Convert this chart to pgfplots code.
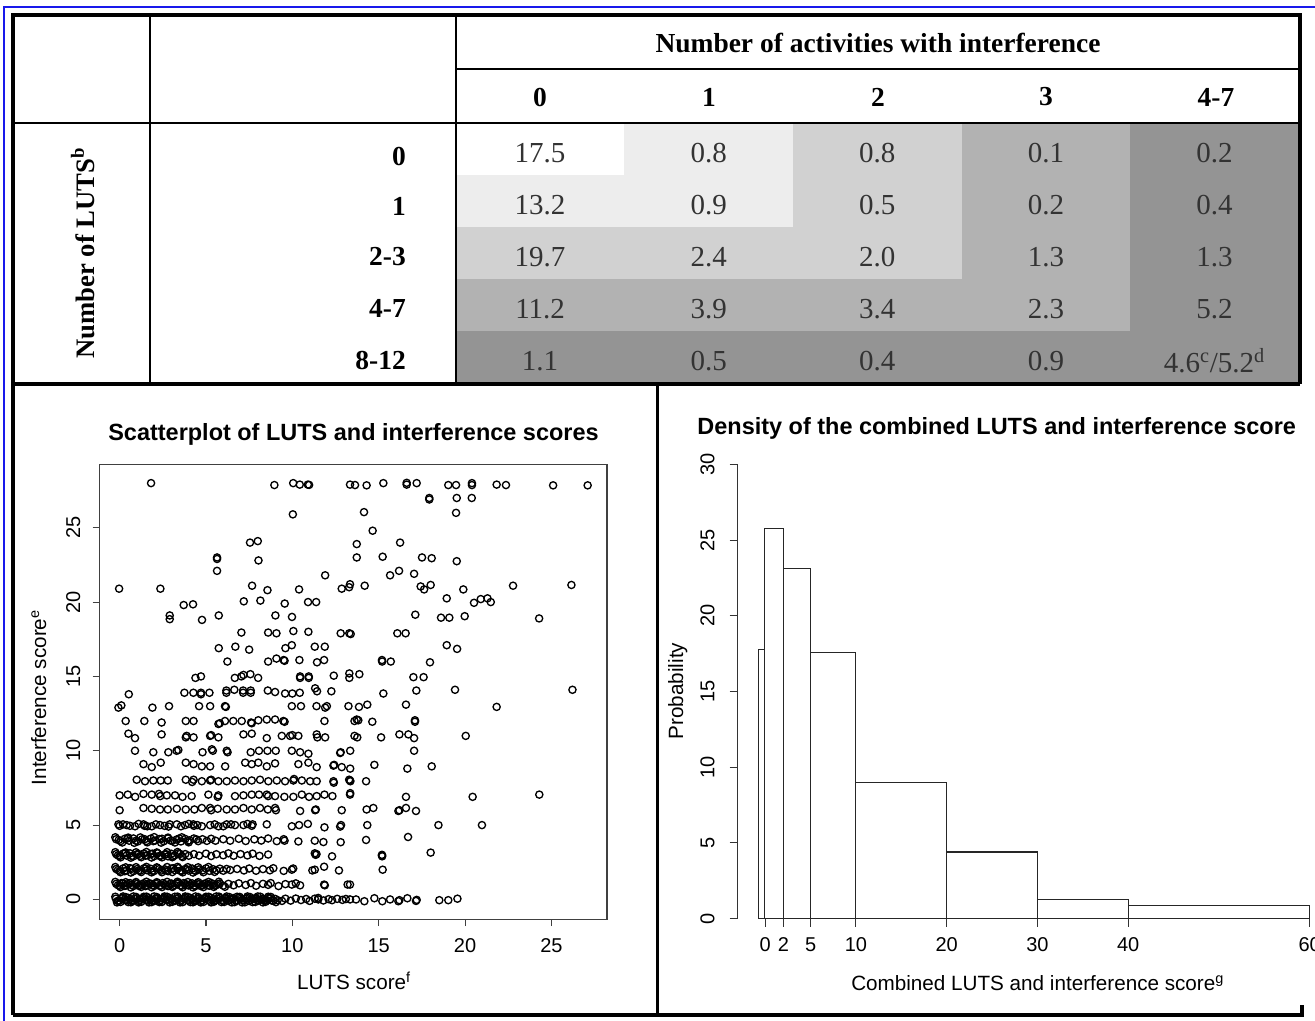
\documentclass[border=0pt]{standalone}
\usepackage{pgfplots}
\pgfplotsset{compat=1.18}
\usepackage{fontspec}
\setmainfont{Liberation Serif}
\newfontfamily\arial{Liberation Sans}
\definecolor{lv1}{gray}{0.93}
\definecolor{lv2}{gray}{0.82}
\definecolor{lv3}{gray}{0.70}
\definecolor{lv4}{gray}{0.58}
\definecolor{rblue}{RGB}{25,25,235}

\begin{document}
\begin{tikzpicture}
% page = 1315 x 1021 px, 1 px = 0.75pt
\useasboundingbox (0pt,0pt) rectangle (986.25pt,-765.75pt);
\fill[white] (0pt,0pt) rectangle (986.25pt,-765.75pt);

% ---- table cells (shading + values); origin at pixel (455.8,383)
\begin{axis}[at={(341.85pt,-287.25pt)}, anchor=south west, scale only axis,
  width=632.25pt, height=194.8pt,
  xmin=-0.5, xmax=4.5, ymin=-0.5, ymax=4.5, y dir=reverse,
  hide axis, clip=false]
\addplot[fill=lv4, draw=none] coordinates {(-0.5,-0.5) (4.5,-0.5) (4.5,4.5) (-0.5,4.5)} -- cycle;
\addplot[fill=lv3, draw=none] coordinates {(-0.5,-0.5) (3.5,-0.5) (3.5,3.5) (-0.5,3.5)} -- cycle;
\addplot[fill=lv2, draw=none] coordinates {(-0.5,-0.5) (2.5,-0.5) (2.5,2.5) (-0.5,2.5)} -- cycle;
\addplot[fill=lv1, draw=none] coordinates {(-0.5,-0.5) (1.5,-0.5) (1.5,1.5) (-0.5,1.5)} -- cycle;
\addplot[fill=white, draw=none] coordinates {(-0.5,-0.5) (0.5,-0.5) (0.5,0.5) (-0.5,0.5)} -- cycle;
\addplot[only marks, mark=none, point meta=explicit symbolic, nodes near coords,
  every node near coord/.append style={anchor=center, yshift=-3pt, text=black!80,
    font=\fontsize{21.75}{24}\selectfont}]
  table[meta=label] {
x y label
0 0 17.5
1 0 0.8
2 0 0.8
3 0 0.1
4 0 0.2
0 1 13.2
1 1 0.9
2 1 0.5
3 1 0.2
4 1 0.4
0 2 19.7
1 2 2.4
2 2 2.0
3 2 1.3
4 2 1.3
0 3 11.2
1 3 3.9
2 3 3.4
3 3 2.3
4 3 5.2
0 4 1.1
1 4 0.5
2 4 0.4
3 4 0.9
4 4 {4.6\textsuperscript{c}/5.2\textsuperscript{d}}
};
\end{axis}

% ---- scatterplot; box corner at pixel (99.6,919.2)
\begin{axis}[at={(74.7pt,-689.4pt)}, anchor=south west, scale only axis,
  width=380.55pt, height=341.0pt,
  xmin=-1.16, xmax=28.22, ymin=-1.33, ymax=29.25,
  axis line style={black!75, line width=0.9pt},
  tick align=outside, tick pos=left, major tick length=5.25pt,
  tick style={black!75, line width=0.8pt},
  xtick={0,5,...,25}, ytick={0,5,...,25},
  /pgf/number format/assume math mode=true,
  ticklabel style={font=\arial\fontsize{15}{18}\selectfont, inner sep=0pt},
  yticklabel style={rotate=90, anchor=south},
  xticklabel shift=9pt, yticklabel shift=9pt]
\addplot[only marks, mark=o, mark size=2.7pt, mark options={black, line width=1.0pt}] coordinates {
(1.82,28.0) (8.96,27.87) (10.05,28.0) (10.43,27.9) (10.9,27.9) (10.97,27.88) (13.34,27.9) (13.63,27.87) (14.3,27.85) (15.27,28.0) (16.62,28.02) (16.62,27.9) (17.2,28.0) (19.03,27.87) (19.48,27.87) (20.4,28.0) (20.4,27.87) (21.83,27.9) (22.37,27.87) (25.1,27.85) (27.1,27.85)
(17.93,27.0) (17.93,26.9) (19.52,27.0) (20.39,27.0)
(10.03,25.9) (14.15,26.05) (19.48,26.0) (14.65,24.8)
(7.55,24.0) (8.0,24.1) (13.73,23.9) (16.24,24.0)
(5.64,23.0) (5.64,22.9) (5.64,22.1) (8.04,22.8) (13.73,23.0) (15.23,23.05) (17.51,23.0) (18.07,22.95) (19.52,22.75)
(11.9,21.8) (15.66,21.8) (16.18,22.1) (17.05,21.9)
(-0.03,20.9) (2.36,20.9) (7.67,21.1) (8.56,20.8) (10.39,20.85) (12.86,20.9) (13.29,21.0) (13.34,21.2) (14.19,21.1) (17.43,21.05) (17.63,20.85) (18.01,21.15) (19.9,20.85) (22.78,21.1) (26.16,21.15)
(3.71,19.8) (4.25,19.85) (7.19,20.05) (8.15,20.1) (9.56,19.9) (10.91,20.0) (11.38,20.0) (18.94,20.25) (20.52,19.95) (20.91,20.2) (21.3,20.25) (21.49,20.0)
(2.9,19.1) (2.9,18.85) (4.77,18.8) (5.74,19.1) (9.02,19.1) (9.98,19.0) (17.12,19.15) (18.61,18.95) (19.09,18.95) (19.98,19.05) (24.29,18.9)
(7.05,17.95) (8.6,17.95) (9.08,17.9) (10.06,18.05) (10.93,18.0) (12.8,17.9) (13.3,17.9) (13.38,17.85) (16.08,17.9) (16.56,17.9)
(5.74,16.9) (6.7,17.0) (7.5,16.8) (9.6,16.9) (9.97,17.1) (11.3,17.0) (11.88,17.0) (18.94,17.1) (19.54,16.85)
(6.24,16.0) (8.6,16.0) (9.08,16.2) (9.5,16.1) (9.55,16.05) (10.41,16.1) (11.43,15.95) (11.84,16.1) (15.19,16.1) (15.2,16.0) (15.7,16.0) (17.97,15.95)
(4.39,14.9) (4.71,15.0) (6.67,14.9) (7.05,15.0) (7.17,15.1) (7.57,15.15) (8.02,14.9) (10.45,15.0) (10.45,14.9) (10.95,15.0) (10.95,14.9) (12.4,15.05) (13.3,15.2) (13.3,14.9) (13.88,15.15) (17.01,14.95) (17.6,14.95)
(0.53,13.8) (3.75,13.9) (4.27,13.9) (4.71,13.9) (4.71,13.8) (5.2,13.9) (6.18,14.05) (6.18,13.9) (6.64,14.1) (7.15,14.05) (7.15,13.9) (7.59,14.05) (7.59,13.9) (8.58,14.05) (9.0,13.95) (9.58,13.85) (10.0,13.85) (10.43,13.9) (11.32,14.2) (11.43,14.0) (12.26,14.0) (15.27,13.85) (17.18,14.05) (19.42,14.1) (26.22,14.1)
(-0.07,12.9) (0.1,13.05) (1.9,12.9) (2.86,13.0) (4.6,13.0) (5.24,13.0) (6.1,13.0) (6.15,12.95) (9.97,13.0) (10.5,13.0) (11.4,13.0) (11.9,12.9) (12.0,13.0) (13.25,13.0) (13.86,12.95) (14.34,13.1) (16.58,13.1) (21.83,12.95)
(0.35,12.0) (1.43,12.0) (2.43,11.9) (3.83,12.0) (4.28,12.0) (5.72,11.8) (5.8,11.85) (6.1,12.0) (6.58,12.0) (7.07,12.0) (7.61,11.9) (7.65,11.85) (8.03,12.05) (8.52,12.1) (9.0,12.1) (9.48,12.0) (9.55,11.95) (11.86,12.0) (13.6,12.0) (13.73,12.1) (13.82,12.05) (14.63,11.95) (17.1,11.95) (17.1,12.05)
(0.51,11.15) (0.89,10.85) (2.43,11.1) (3.83,10.9) (3.88,11.0) (4.28,10.9) (5.24,11.0) (5.3,11.05) (5.72,10.9) (7.17,11.1) (7.65,11.15) (8.52,10.85) (9.39,11.0) (9.87,11.0) (10.0,11.05) (10.35,11.0) (11.41,11.1) (11.45,10.9) (11.9,10.9) (13.6,11.0) (13.76,10.9) (15.14,10.9) (16.2,11.1) (16.72,11.1) (17.05,10.85) (20.04,11.0)
(0.89,10.0) (1.95,9.9) (2.82,9.9) (3.3,10.0) (3.4,10.05) (4.8,9.9) (5.34,10.1) (5.4,10.0) (6.2,10.0) (6.25,9.9) (7.59,9.9) (8.07,10.0) (8.56,10.0) (9.04,10.0) (9.97,10.0) (10.45,9.9) (10.93,9.8) (12.77,9.85) (12.8,9.9) (13.35,10.0) (17.05,10.0)
(1.38,9.1) (1.86,8.9) (2.38,9.2) (3.83,9.2) (4.28,9.1) (4.76,8.95) (5.24,8.95) (6.11,8.95) (7.27,9.2) (7.65,9.1) (8.03,9.2) (8.52,8.95) (9.0,9.15) (10.35,9.1) (10.93,9.2) (11.41,8.9) (12.38,9.0) (12.42,9.05) (12.86,8.9) (13.35,8.8) (14.75,9.05) (16.66,8.8) (18.07,8.95)
(0.99,8.05) (1.47,7.95) (1.95,8.0) (2.38,8.0) (2.79,8.0) (3.83,8.05) (4.2,7.9) (4.28,8.05) (4.76,7.95) (5.24,8.0) (5.3,8.05) (5.72,7.95) (6.2,7.95) (6.68,8.0) (7.17,7.95) (7.65,8.0) (8.13,8.05) (8.61,7.95) (9.1,8.0) (9.58,7.95) (10.06,8.0) (10.1,8.1) (10.55,8.0) (11.03,7.95) (11.41,7.95) (12.38,7.95) (12.4,7.85) (13.29,8.05) (13.34,8.0) (13.36,7.95) (14.27,7.95)
(0.0,7.0) (0.47,7.05) (0.9,6.9) (1.38,7.1) (1.86,7.05) (2.28,7.1) (2.35,6.95) (2.73,7.0) (3.21,7.0) (3.64,6.9) (4.17,6.95) (5.14,7.05) (5.68,6.9) (5.72,7.0) (6.68,6.95) (7.17,7.0) (7.65,7.05) (8.07,7.05) (8.52,7.05) (8.6,6.95) (9.0,6.95) (9.54,6.9) (10.06,6.9) (10.55,7.05) (10.97,6.9) (11.41,6.95) (11.86,7.05) (12.32,6.95) (13.35,7.15) (13.34,7.05) (16.58,6.9) (20.44,6.9) (24.3,7.05)
(0.0,6.0) (1.38,6.15) (1.86,6.1) (2.34,6.05) (2.79,6.05) (3.31,6.1) (3.83,6.05) (4.33,6.05) (4.76,6.15) (5.24,6.15) (5.3,6.0) (5.68,6.1) (6.2,6.05) (6.68,6.05) (7.17,6.15) (7.65,6.05) (8.13,6.15) (8.58,6.05) (9.0,6.15) (9.05,6.0) (10.45,5.95) (11.32,6.0) (11.36,6.05) (12.86,6.0) (14.3,6.05) (14.69,6.15) (16.14,5.95) (16.2,6.0) (16.58,6.15) (17.16,5.95)
(-0.07,5.05) (0.0,4.95) (0.2,5.05) (0.41,5.0) (0.6,4.95) (0.89,4.92) (1.1,5.08) (1.38,5.05) (1.45,4.95) (1.6,4.92) (1.86,4.92) (2.1,5.05) (2.34,5.0) (2.6,4.95) (2.83,4.9) (2.9,5.05) (3.31,5.05) (3.55,4.92) (3.79,5.0) (4.0,5.08) (4.27,5.05) (4.3,4.95) (4.5,5.0) (4.76,4.92) (5.24,5.0) (5.5,5.05) (5.72,4.92) (6.0,4.92) (6.2,5.05) (6.45,5.05) (6.68,5.0) (7.17,5.0) (7.4,5.08) (7.65,4.95) (7.7,5.05) (8.52,5.05) (9.97,4.92) (10.39,5.0) (10.9,5.08) (11.86,4.85) (12.77,4.9) (12.82,5.0) (14.34,5.0) (18.46,5.0) (20.98,5.0)
(-0.2,4.05) (0.05,3.92) (0.3,4.08) (0.55,3.95) (0.8,4.1) (1.05,3.9) (1.3,4.04) (1.55,3.93) (1.8,4.09) (2.05,3.96) (2.3,4.06) (2.55,3.91) (2.8,4.1) (3.05,3.94) (3.3,4.03) (3.55,3.9) (3.8,4.07) (4.05,3.97) (4.3,4.1) (4.55,3.92) (4.8,4.05) (5.05,3.94) (5.3,4.08) (5.55,3.95)
(-0.05,4.0) (0.45,4.1) (0.95,3.95) (1.45,4.05) (1.95,3.92) (2.45,4.08) (2.95,3.96) (3.45,4.1) (3.95,3.93) (4.45,4.04)
(-0.25,4.18) (0.15,3.83) (0.5,4.16) (0.85,3.81) (1.2,4.17) (1.6,3.84) (2.0,4.19) (2.4,3.82) (2.8,4.16) (3.2,3.83) (3.6,4.18) (4.0,3.84)
(6.0,4.05) (6.4,3.95) (6.9,4.08) (7.3,3.93) (7.8,4.04) (8.2,3.96) (8.6,4.1) (9.1,3.92) (9.5,4.05) (9.55,3.95) (10.35,3.9) (11.3,3.95) (11.8,3.86) (12.8,3.85) (14.27,4.0) (16.7,4.2)
(-0.2,3.05) (0.0,2.92) (0.2,3.08) (0.4,2.95) (0.6,3.1) (0.8,2.9) (1.0,3.04) (1.2,2.93) (1.4,3.09) (1.6,2.96) (1.8,3.06) (2.0,2.91) (2.2,3.1) (2.4,2.94) (2.6,3.03) (2.8,2.9) (3.0,3.07) (3.2,2.97) (3.4,3.1) (3.6,2.92) (3.8,3.05) (4.0,2.94)
(-0.1,2.96) (0.3,3.1) (0.7,2.92) (1.1,3.05) (1.5,2.95) (1.9,3.08) (2.3,2.93) (2.7,3.04) (3.1,2.9) (3.5,3.06)
(-0.25,3.18) (0.05,2.83) (0.35,3.16) (0.65,2.81) (0.95,3.17) (1.25,2.84) (1.55,3.19) (1.85,2.82) (2.15,3.16) (2.45,2.83) (2.75,3.18) (3.05,2.84) (3.35,3.19) (3.65,2.85)
(4.3,3.05) (4.6,2.95) (5.0,3.08) (5.3,2.92) (5.6,3.04) (6.0,2.97) (6.3,3.1) (6.6,2.94) (7.0,3.05) (7.4,2.96) (7.7,3.08) (8.1,2.93) (8.6,3.02) (11.3,3.1) (11.35,3.0) (11.4,3.05) (12.3,2.9) (15.19,3.0) (15.19,2.95) (15.2,2.9) (18.01,3.15)
(-0.2,2.05) (0.0,1.92) (0.2,2.08) (0.4,1.95) (0.6,2.1) (0.8,1.9) (1.0,2.04) (1.2,1.93) (1.4,2.09) (1.6,1.96) (1.8,2.06) (2.0,1.91) (2.2,2.1) (2.4,1.94) (2.6,2.03) (2.8,1.9) (3.0,2.07) (3.2,1.97) (3.4,2.1) (3.6,1.92) (3.8,2.05) (4.0,1.94) (4.2,2.08) (4.4,1.91) (4.6,2.02) (4.8,1.95) (5.0,2.09) (5.2,1.92) (5.4,2.04) (5.6,1.96) (5.8,2.07) (6.0,1.93) (6.2,2.05) (6.4,1.98)
(-0.1,1.98) (0.3,1.9) (0.7,2.06) (1.1,1.95) (1.5,2.08) (1.9,1.92) (2.3,2.04) (2.7,1.96) (3.1,2.1) (3.5,1.93) (3.9,2.02) (4.3,1.97)
(-0.25,2.18) (0.05,1.83) (0.35,2.16) (0.65,1.81) (0.95,2.17) (1.25,1.84) (1.55,2.19) (1.85,1.82) (2.15,2.16) (2.45,1.83) (2.75,2.18) (3.05,1.84) (3.35,2.19) (3.65,1.82) (3.95,2.17) (4.25,1.81) (4.55,2.16) (4.85,1.83) (5.15,2.18) (5.5,1.85)
(6.8,2.05) (7.2,1.95) (7.5,2.08) (7.9,1.93) (8.3,2.04) (8.7,1.96) (8.9,2.1) (9.5,1.92) (9.97,2.0) (10.05,2.08) (11.16,1.95) (11.3,2.0) (11.84,2.2) (12.7,1.95) (15.23,2.0)
(-0.2,1.05) (0.0,0.92) (0.2,1.08) (0.4,0.95) (0.6,1.1) (0.8,0.9) (1.0,1.04) (1.2,0.93) (1.4,1.09) (1.6,0.96) (1.8,1.06) (2.0,0.91) (2.2,1.1) (2.4,0.94) (2.6,1.03) (2.8,0.9) (3.0,1.07) (3.2,0.97) (3.4,1.1) (3.6,0.92) (3.8,1.05) (4.0,0.94) (4.2,1.08) (4.4,0.91) (4.6,1.02) (4.8,0.95) (5.0,1.09) (5.2,0.92) (5.4,1.04) (5.6,0.96) (5.8,1.07) (6.0,0.93)
(-0.1,0.96) (0.1,1.1) (0.3,0.91) (0.5,1.04) (0.7,0.97) (0.9,1.09) (1.1,0.92) (1.3,1.03) (1.5,0.9) (1.7,1.08) (1.9,0.95) (2.1,1.05) (2.3,0.92) (2.5,1.1) (2.7,0.96) (2.9,1.04) (3.1,0.91) (3.3,1.07) (3.5,0.94) (3.7,1.1) (3.9,0.97) (4.1,1.02) (4.3,0.93) (4.5,1.08) (4.7,0.9) (4.9,1.05) (5.1,0.96) (5.3,1.1) (5.5,0.93) (5.7,1.03)
(-0.25,1.18) (0.05,0.83) (0.35,1.16) (0.65,0.81) (0.95,1.17) (1.25,0.84) (1.55,1.19) (1.85,0.82) (2.15,1.16) (2.45,0.83) (2.75,1.18) (3.05,0.84) (3.35,1.19) (3.65,0.82) (3.95,1.17) (4.25,0.81) (4.55,1.16) (4.85,0.83) (5.15,1.18) (5.45,0.84) (5.75,1.19) (6.1,0.85)
(6.3,1.05) (6.6,0.95) (6.9,1.08) (7.3,0.97) (7.6,1.1) (7.9,0.92) (8.3,1.05) (8.6,0.98) (8.75,1.1) (9.2,0.9) (9.6,1.03) (9.97,1.0) (10.2,1.08) (10.45,0.95) (11.84,1.0) (11.88,0.95) (13.2,1.0) (13.34,1.0)
(-0.22,0.05) (-0.02,-0.08) (0.18,0.1) (0.41,-0.05) (0.6,0.03) (0.79,-0.1) (1.02,0.07) (1.2,-0.02) (1.39,0.09) (1.61,-0.07) (1.8,0.02) (2.01,-0.1) (2.2,0.06) (2.42,-0.04) (2.6,0.1) (2.79,-0.06) (3.0,0.04) (3.21,-0.09) (3.4,0.08) (3.6,-0.03) (3.81,0.1) (4.0,-0.07) (4.2,0.02) (4.41,-0.1) (4.6,0.06) (4.79,-0.04) (5.0,0.09) (5.2,-0.08) (5.41,0.03) (5.6,-0.05) (5.8,0.1) (6.01,-0.09) (6.2,0.05) (6.4,-0.02) (6.6,0.08) (6.79,-0.1) (7.0,0.04) (7.2,-0.06) (7.41,0.09) (7.6,-0.03) (7.8,0.06) (8.0,-0.09) (8.2,0.02) (8.4,-0.05) (8.6,0.1) (8.8,-0.07) (9.0,0.04) (9.15,-0.05)
(-0.12,-0.1) (0.1,0.08) (0.3,-0.04) (0.5,0.1) (0.7,-0.07) (0.9,0.04) (1.1,-0.1) (1.3,0.05) (1.5,-0.03) (1.7,0.09) (1.9,-0.08) (2.1,0.03) (2.3,-0.1) (2.5,0.07) (2.7,-0.02) (2.9,0.09) (3.1,-0.06) (3.3,0.04) (3.5,-0.1) (3.7,0.06) (3.9,-0.04) (4.1,0.09) (4.3,-0.07) (4.5,0.02) (4.7,-0.1) (4.9,0.07) (5.1,-0.03) (5.3,0.1) (5.5,-0.08) (5.7,0.04) (5.9,-0.05) (6.1,0.08) (6.3,-0.09) (6.5,0.03) (6.7,-0.06) (6.9,0.1) (7.1,-0.04) (7.3,0.06) (7.5,-0.1) (7.7,0.02) (7.9,0.08) (8.1,-0.06) (8.3,0.05) (8.5,-0.03) (8.7,0.07) (8.9,-0.1)
(-0.25,0.18) (0.05,-0.17) (0.35,0.16) (0.65,-0.19) (0.95,0.17) (1.25,-0.16) (1.55,0.19) (1.85,-0.18) (2.15,0.16) (2.45,-0.17) (2.75,0.18) (3.05,-0.16) (3.35,0.19) (3.65,-0.18) (3.95,0.17) (4.25,-0.19) (4.55,0.16) (4.85,-0.17) (5.15,0.18) (5.45,-0.16) (5.75,0.19) (6.05,-0.17) (6.35,0.16) (6.65,-0.18) (6.95,0.17) (7.25,-0.19) (7.55,0.16) (7.85,-0.17) (8.15,0.18) (8.45,-0.16) (8.75,0.17) (9.05,-0.18)
(-0.15,-0.2) (0.2,0.2) (0.5,-0.18) (0.8,0.2) (1.1,-0.2) (1.4,0.18) (1.7,-0.2) (2.0,0.2) (2.3,-0.18) (2.6,0.2) (2.9,-0.2) (3.2,0.18) (3.5,-0.2) (3.8,0.2) (4.1,-0.18) (4.4,0.2) (4.7,-0.2) (5.0,0.18) (5.3,-0.2) (5.6,0.2) (5.9,-0.18) (6.2,0.2) (6.5,-0.2) (6.8,0.18) (7.1,-0.2) (7.4,0.2) (7.7,-0.18) (8.0,0.2) (8.3,-0.2) (8.6,0.18)
(9.4,-0.1) (9.6,0.05) (9.9,-0.08) (10.2,0.06) (10.5,-0.04) (10.8,0.03) (11.0,-0.1) (11.3,0.05) (11.5,0.1) (11.5,0.0) (11.8,-0.07) (12.1,0.02) (12.3,-0.05) (12.6,0.04) (12.9,-0.03) (13.1,0.03) (13.34,0.0) (13.69,0.0) (14.17,-0.12) (14.75,0.08) (15.21,-0.12) (15.66,0.0) (16.14,-0.12) (16.2,-0.05) (16.66,0.08) (17.16,-0.1) (17.2,-0.03) (18.51,-0.05) (19.03,-0.05) (19.56,0.05)
};
\end{axis}

% ---- histogram; y axis at pixel (737.5,918.6)
\begin{axis}[at={(553.125pt,-688.95pt)}, anchor=south west, scale only axis,
  width=445.5pt, height=340.6pt,
  xmin=-3.05, xmax=62.4, ymin=0, ymax=30,
  axis x line*=bottom, axis y line*=left,
  x axis line style={draw=none},
  y axis line style={black!80, line width=0.8pt},
  tick align=outside, major tick length=6pt,
  tick style={black!80, line width=0.8pt},
  xtick={0,2,5,10,20,30,40,60}, ytick={0,5,...,30},
  /pgf/number format/assume math mode=true,
  ticklabel style={font=\arial\fontsize{15}{18}\selectfont, inner sep=0pt},
  yticklabel style={rotate=90, anchor=south},
  xticklabel shift=8pt, yticklabel shift=11pt]
\addplot[ybar interval, fill=white, draw=black!85, line width=0.8pt] coordinates {
(-0.7,17.75) (-0.1,25.8) (2,23.1) (5,17.6) (10,9.0) (20,4.4) (30,1.28) (40,0.84) (60,0.84)
};
\end{axis}

\begin{scope}[x=0.75pt,y=-0.75pt]
% ---- table rules and frame
\draw[line width=1.5pt] (150,15) -- (150,384);
\draw[line width=2pt] (456,15) -- (456,384);
\draw[line width=1.5pt] (456,69) -- (1300,69);
\draw[line width=2pt] (13,123) -- (1300,123);
\draw[line width=3pt] (13,384) -- (1300,384);
\draw[line width=3pt] (13,1015) -- (13,15) -- (1300,15) -- (1300,384);
\draw[line width=2.25pt] (657,384) -- (657,1015);
\draw[line width=3pt] (13,1015) -- (1303,1015);
\draw[line width=2.5pt] (1302,1016.5) -- (1302,1005);
\draw[rblue, line width=1.5pt] (4,1021) -- (4,7) -- (1315,7);

% ---- table headings
\begin{scope}[every node/.style={font=\bfseries\fontsize{20.6}{24}\selectfont}]
\node at (878,43) {Number of activities with interference};
\node at (540,97) {0};
\node at (709,97) {1};
\node at (878,97) {2};
\node at (1046,97) {3};
\node at (1216,97) {4-7};
\node[anchor=east, inner sep=0pt] at (406,156) {0};
\node[anchor=east, inner sep=0pt] at (406,206) {1};
\node[anchor=east, inner sep=0pt] at (406,257) {2-3};
\node[anchor=east, inner sep=0pt] at (406,308) {4-7};
\node[anchor=east, inner sep=0pt] at (406,360) {8-12};
\node[rotate=90, anchor=base, font=\bfseries\fontsize{20}{24}\selectfont] at (94,253) {Number of LUTS\textsuperscript{b}};
\end{scope}

% ---- panel titles and axis labels
\node[anchor=base, font=\arial\bfseries\fontsize{17.6}{20}\selectfont] at (353.5,440) {Scatterplot of LUTS and interference scores};
\node[anchor=base, font=\arial\bfseries\fontsize{17.6}{20}\selectfont] at (996.7,434) {Density of the combined LUTS and interference score};
\node[anchor=base, font=\arial\fontsize{15.5}{18}\selectfont] at (354,989) {LUTS score\textsuperscript{f}};
\node[anchor=base, rotate=90, font=\arial\fontsize{15.5}{18}\selectfont] at (46,697.5) {Interference score\textsuperscript{e}};
\node[anchor=base, font=\arial\fontsize{15.5}{18}\selectfont] at (1037.7,990) {Combined LUTS and interference score\textsuperscript{g}};
\node[anchor=base, rotate=90, font=\arial\fontsize{15.5}{18}\selectfont] at (683,691) {Probability};
\end{scope}
\end{tikzpicture}
\end{document}
